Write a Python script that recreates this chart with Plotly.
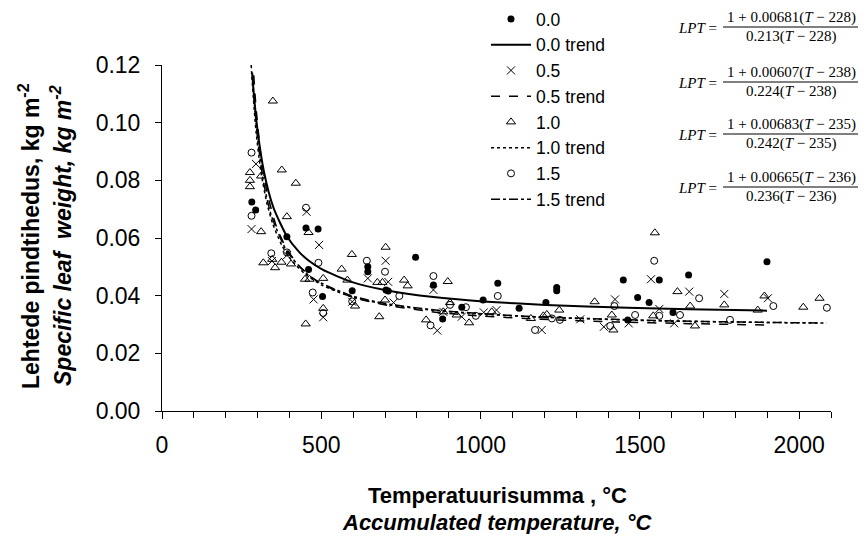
import plotly.graph_objects as go

# ---- data ----
T00 = [282, 294, 392, 452, 490, 460, 504, 597, 646, 646, 703, 710, 796, 852, 881, 941, 1008, 1054, 1121, 1205,
       1239, 1239, 1448, 1462, 1493, 1529, 1561, 1604, 1653, 1899]
V00 = [0.0725, 0.0697, 0.0604, 0.0635, 0.0631, 0.0491, 0.0397, 0.0417, 0.050, 0.0483,
       0.042, 0.0416, 0.0533, 0.0437, 0.0319, 0.036, 0.0385, 0.0443, 0.0356, 0.0376,
       0.0428, 0.0417, 0.0454, 0.0316, 0.0394, 0.0376, 0.0454, 0.0342, 0.0472, 0.0518]

T05 = [281, 295, 345, 392, 454, 493, 476, 506, 597, 646, 702, 710, 727, 852, 864, 883, 941, 1010, 1050, 1192,
       1313, 1387, 1422, 1465, 1535, 1561, 1608, 1655, 1765, 1902]
V05 = [0.0631, 0.0857, 0.052, 0.054, 0.0691, 0.0576, 0.0387, 0.0325, 0.0379, 0.046,
       0.0521, 0.0448, 0.0376, 0.042, 0.0279, 0.0344, 0.0327, 0.0342, 0.035, 0.0281,
       0.0318, 0.0292, 0.0387, 0.0304, 0.0457, 0.0354, 0.0304, 0.0414, 0.0406, 0.0391]

T10 = [348, 276, 276, 276, 311, 376, 420, 311, 392, 460, 318, 346, 355, 375, 405, 449, 463, 506, 564, 596,
       582, 506, 451, 606, 702, 676, 692, 700, 682, 760, 771, 897, 829, 883, 904, 925, 964, 1035, 1158, 1197,
       1208, 1247, 1358, 1412, 1417, 1547, 1542, 1618, 1658, 1673, 1765, 1870, 1891, 2013, 2064]
V10 = [0.1075, 0.0827, 0.080, 0.0778, 0.0815, 0.0836, 0.079, 0.0622, 0.0674, 0.0619,
       0.0514, 0.0526, 0.0497, 0.0516, 0.051, 0.0457, 0.0457, 0.046, 0.0492, 0.0543,
       0.0454, 0.0356, 0.0302, 0.0364, 0.0568, 0.0446, 0.0446, 0.0385, 0.0327, 0.0454,
       0.0434, 0.0449, 0.0316, 0.0344, 0.0376, 0.0333, 0.0306, 0.0344, 0.0321, 0.033,
       0.0335, 0.035, 0.0379, 0.0333, 0.0281, 0.0618, 0.033, 0.0414, 0.0364, 0.0295,
       0.0368, 0.035, 0.0399, 0.036, 0.0391]

T15 = [281, 281, 343, 392, 452, 491, 473, 506, 597, 643, 700, 745, 852, 843, 904, 954, 985, 1054, 1171, 1224,
       1249, 1407, 1420, 1485, 1545, 1561, 1626, 1686, 1783, 1919, 2087]
V15 = [0.0896, 0.0677, 0.0547, 0.055, 0.0705, 0.0514, 0.0411, 0.034, 0.038, 0.0521,
       0.0483, 0.0399, 0.0468, 0.0297, 0.0368, 0.036, 0.033, 0.0399, 0.0281, 0.0321,
       0.0316, 0.0295, 0.0364, 0.0333, 0.0521, 0.033, 0.0333, 0.0391, 0.0316, 0.0364, 0.0358]

# trend curves
TT00 = [283, 290, 300, 320, 350, 392, 430, 460, 504, 597, 703, 852, 1008, 1205, 1462, 1653, 1899]
VT00 = [0.1174, 0.1077, 0.0972, 0.083, 0.0705, 0.0606, 0.0552, 0.0522, 0.049, 0.0447,
        0.0419, 0.0395, 0.038, 0.0368, 0.0358, 0.0353, 0.0348]
TT05 = [288, 295, 310, 330, 360, 392, 430, 476, 506, 597, 710, 864, 1010, 1192, 1422, 1655, 1902]
VT05 = [0.1164, 0.1054, 0.0891, 0.0756, 0.0637, 0.0561, 0.0504, 0.0459, 0.0438, 0.0395,
        0.0366, 0.0342, 0.0329, 0.0318, 0.0309, 0.0303, 0.0298]
TT10 = [280, 282, 295, 311, 330, 348, 376, 405, 449, 506, 596, 702, 829, 964, 1158, 1358, 1547, 1765, 2064]
VT10 = [0.120, 0.1161, 0.0971, 0.0826, 0.0717, 0.0648, 0.0575, 0.0525, 0.0475, 0.0434,
        0.0396, 0.037, 0.0352, 0.0339, 0.0327, 0.0319, 0.0313, 0.0309, 0.0305]
TT15 = [284, 290, 300, 320, 343, 392, 452, 491, 597, 700, 852, 985, 1171, 1422, 1626, 1919, 2087]
VT15 = [0.1165, 0.1067, 0.0944, 0.0786, 0.0678, 0.0554, 0.0478, 0.0448, 0.0399, 0.0373,
        0.0351, 0.0339, 0.0327, 0.0318, 0.0312, 0.0307, 0.0305]

SERIES = ["0.0", "0.5", "1.0", "1.5"]
EQ_NUM = ["1 + 0.00681(<i>T</i> \u2212 228)", "1 + 0.00607(<i>T</i> \u2212 238)",
          "1 + 0.00683(<i>T</i> \u2212 235)", "1 + 0.00665(<i>T</i> \u2212 236)"]
EQ_DEN = ["0.213(<i>T</i> \u2212 228)", "0.224(<i>T</i> \u2212 238)",
          "0.242(<i>T</i> \u2212 235)", "0.236(<i>T</i> \u2212 236)"]
X_TICKS = [0, 500, 1000, 1500, 2000]
Y_TICKS = [0.00, 0.02, 0.04, 0.06, 0.08, 0.10, 0.12]

# ---- figure (page has an 8px body margin; layout measured in window pixels) ----
OFF = 8
W, H = 868 - 2 * OFF, 542 - 2 * OFF
PLOT_L, PLOT_R, PLOT_T, PLOT_B = 162, 831, 65, 411   # plot area in window pixels
L, R, TOP, B = PLOT_L - OFF, W - (PLOT_R - OFF), PLOT_T - OFF, H - (PLOT_B - OFF)
PW, PH = PLOT_R - PLOT_L, PLOT_B - PLOT_T


def px(x):
    return (x - PLOT_L) / PW


def py(y):
    return (PLOT_B - y) / PH


FONT = "Arial, Liberation Sans, sans-serif"
SERIF = "Times New Roman, Liberation Serif, serif"
fig = go.Figure()

scatter_data = [(T00, V00), (T05, V05), (T10, V10), (T15, V15)]
trend_data = [(TT00, VT00), (TT05, VT05), (TT10, VT10), (TT15, VT15)]
markers = [dict(symbol="circle", size=7, color="black"),
           dict(symbol="x-thin-open", size=8, color="black", line=dict(width=1, color="black")),
           dict(symbol="triangle-up-open", size=8, color="black", line=dict(width=1, color="black")),
           dict(symbol="circle-open", size=7, color="black", line=dict(width=1, color="black"))]
lines = [dict(color="black", width=2, dash="solid"),
         dict(color="black", width=1.5, dash="dash"),
         dict(color="black", width=1.5, dash="dot"),
         dict(color="black", width=1.5, dash="dashdot")]

for i, name in enumerate(SERIES):
    tx, ty = scatter_data[i]
    fig.add_trace(go.Scatter(x=tx, y=ty, mode="markers", name=name, marker=markers[i], cliponaxis=False))
    lx, ly = trend_data[i]
    fig.add_trace(go.Scatter(x=lx, y=ly, mode="lines", name=name + " trend",
                             line=dict(shape="spline", smoothing=0.6, **lines[i])))

fig.update_layout(
    width=W, height=H,
    margin=dict(l=L, r=R, t=TOP, b=B, autoexpand=False),
    paper_bgcolor="white", plot_bgcolor="white",
    font=dict(family=FONT, size=22, color="black"),
    showlegend=True,
    legend=dict(x=px(486), y=py(1), xanchor="left", yanchor="top", bgcolor="rgba(0,0,0,0)",
                font=dict(size=17.5, family=FONT), tracegroupgap=0, itemwidth=40),
    xaxis=dict(range=[0, 2100], tickvals=X_TICKS, ticktext=[str(v) for v in X_TICKS],
               showgrid=False, zeroline=False, showline=True, linecolor="black", linewidth=1,
               ticks="outside", ticklen=7, tickcolor="black",
               minor=dict(dtick=100, ticks="outside", ticklen=6, tickcolor="black"),
               tickfont=dict(size=23), ticklabelstandoff=6, fixedrange=True),
    yaxis=dict(range=[0, 0.12], tickvals=Y_TICKS, ticktext=["%.2f" % v for v in Y_TICKS],
               showgrid=False, zeroline=False, showline=True, linecolor="black", linewidth=1,
               ticks="outside", ticklen=6, tickcolor="black", tickfont=dict(size=23),
               ticklabelstandoff=10, fixedrange=True),
)

ann = []
# axis titles
ann.append(dict(text="<b>Temperatuurisumma , \u00b0C</b>", x=px(497), y=py(495), xref="paper", yref="paper",
                showarrow=False, xanchor="center", yanchor="middle", font=dict(size=22, family=FONT)))
ann.append(dict(text="<b><i>Accumulated temperature, \u00b0C</i></b>", x=px(497), y=py(522), xref="paper", yref="paper",
                showarrow=False, xanchor="center", yanchor="middle", font=dict(size=22, family=FONT)))
ann.append(dict(text="<b>Lehtede pindtihedus, kg m<sup>-2</sup></b>", x=px(29), y=py(236), xref="paper", yref="paper",
                showarrow=False, xanchor="center", yanchor="middle", textangle=-90, font=dict(size=23, family=FONT)))
ann.append(dict(text="<b><i>Specific leaf  weight, kg m<sup>-2</sup></i></b>", x=px(61), y=py(236), xref="paper", yref="paper",
                showarrow=False, xanchor="center", yanchor="middle", textangle=-90, font=dict(size=23, family=FONT)))

# equations
EQ_Y = [27, 82, 134, 187]
shapes = []
for i in range(4):
    yl = EQ_Y[i]
    ann.append(dict(text="<i>LPT</i> =", x=px(719), y=py(yl + 1), xref="paper", yref="paper", showarrow=False,
                    xanchor="right", yanchor="middle", font=dict(size=15, family=SERIF)))
    ann.append(dict(text=EQ_NUM[i], x=px(791), y=py(yl + 1), xref="paper", yref="paper", showarrow=False,
                    xanchor="center", yanchor="bottom", font=dict(size=15, family=SERIF)))
    ann.append(dict(text=EQ_DEN[i], x=px(791), y=py(yl - 1), xref="paper", yref="paper", showarrow=False,
                    xanchor="center", yanchor="top", font=dict(size=15, family=SERIF)))
    shapes.append(dict(type="line", xref="paper", yref="paper", x0=px(723), x1=px(858), y0=py(yl), y1=py(yl),
                       line=dict(color="black", width=1)))

fig.update_layout(annotations=ann, shapes=shapes)
fig.write_html("out.html")
